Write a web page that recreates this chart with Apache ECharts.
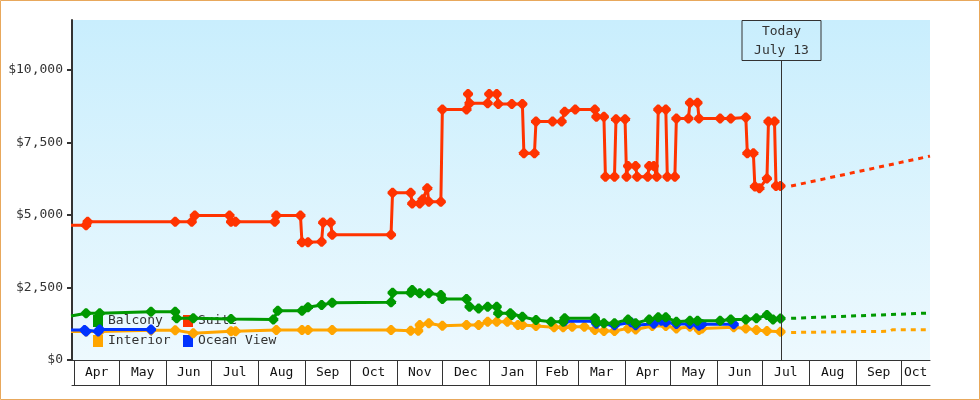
<!DOCTYPE html>
<html>
<head>
<meta charset="utf-8">
<script src="https://cdn.jsdelivr.net/npm/echarts@6/dist/echarts.min.js"></script>
<style>
  html, body { margin: 0; padding: 0; background: #fff; }
  #chart { width: 980px; height: 400px; }
</style>
</head>
<body>
<div id="chart"></div>
<script>
// price history per cabin type: [date, price in USD]
const suite = [
  ['2018-03-30', 4650], ['2018-04-09', 4650], ['2018-04-10', 4770], ['2018-06-07', 4770], ['2018-06-18', 4770],
  ['2018-06-20', 4980], ['2018-07-13', 4980], ['2018-07-14', 4770], ['2018-07-17', 4770], ['2018-08-12', 4770],
  ['2018-08-13', 4980], ['2018-08-29', 4980], ['2018-08-30', 4060], ['2018-09-03', 4060], ['2018-09-12', 4080],
  ['2018-09-13', 4740], ['2018-09-18', 4740], ['2018-09-19', 4320], ['2018-10-28', 4320], ['2018-10-29', 5770],
  ['2018-11-10', 5770], ['2018-11-11', 5400], ['2018-11-16', 5400], ['2018-11-18', 5540], ['2018-11-21', 5920],
  ['2018-11-22', 5460], ['2018-11-30', 5460], ['2018-12-01', 8640], ['2018-12-17', 8640], ['2018-12-18', 9170],
  ['2018-12-19', 8850], ['2018-12-31', 8850], ['2019-01-01', 9170], ['2019-01-06', 9170], ['2019-01-07', 8830],
  ['2019-01-16', 8830], ['2019-01-23', 8830], ['2019-01-24', 7130], ['2019-01-31', 7130], ['2019-02-01', 8220],
  ['2019-02-12', 8220], ['2019-02-18', 8220], ['2019-02-20', 8560], ['2019-02-27', 8640], ['2019-03-12', 8640],
  ['2019-03-13', 8390], ['2019-03-18', 8390], ['2019-03-19', 6320], ['2019-03-25', 6320], ['2019-03-26', 8300],
  ['2019-04-01', 8300], ['2019-04-02', 6320], ['2019-04-03', 6690], ['2019-04-08', 6690], ['2019-04-09', 6320],
  ['2019-04-16', 6320], ['2019-04-17', 6690], ['2019-04-20', 6690], ['2019-04-22', 6320], ['2019-04-23', 8640],
  ['2019-04-28', 8640], ['2019-04-29', 6320], ['2019-05-04', 6320], ['2019-05-05', 8330], ['2019-05-13', 8330],
  ['2019-05-14', 8870], ['2019-05-19', 8870], ['2019-05-20', 8330], ['2019-06-03', 8330], ['2019-06-10', 8330],
  ['2019-06-20', 8360], ['2019-06-21', 7130], ['2019-06-25', 7130], ['2019-06-26', 5980], ['2019-06-29', 5920],
  ['2019-07-04', 6260], ['2019-07-05', 8220], ['2019-07-09', 8220], ['2019-07-10', 6000], ['2019-07-13', 6000]
];
const balcony = [
  ['2018-03-30', 1520], ['2018-04-09', 1610], ['2018-04-18', 1610], ['2018-05-22', 1666], ['2018-06-07', 1666],
  ['2018-06-08', 1440], ['2018-06-19', 1440], ['2018-07-14', 1415], ['2018-08-11', 1400], ['2018-08-14', 1700],
  ['2018-08-30', 1700], ['2018-09-03', 1817], ['2018-09-12', 1896], ['2018-09-19', 1976], ['2018-10-28', 1990],
  ['2018-10-29', 2320], ['2018-11-10', 2320], ['2018-11-11', 2410], ['2018-11-16', 2300], ['2018-11-22', 2300],
  ['2018-11-30', 2240], ['2018-12-01', 2100], ['2018-12-17', 2100], ['2018-12-19', 1840], ['2018-12-25', 1780],
  ['2018-12-31', 1840], ['2019-01-06', 1840], ['2019-01-07', 1610], ['2019-01-15', 1610], ['2019-01-16', 1550],
  ['2019-01-23', 1490], ['2019-02-01', 1380], ['2019-02-11', 1320], ['2019-02-19', 1320], ['2019-02-20', 1437],
  ['2019-03-12', 1437], ['2019-03-13', 1300], ['2019-03-18', 1265], ['2019-03-25', 1265], ['2019-04-03', 1400],
  ['2019-04-08', 1265], ['2019-04-17', 1400], ['2019-04-23', 1470], ['2019-04-28', 1470], ['2019-05-05', 1320],
  ['2019-05-14', 1355], ['2019-05-19', 1355], ['2019-06-03', 1355], ['2019-06-10', 1400], ['2019-06-20', 1400],
  ['2019-06-27', 1437], ['2019-07-04', 1550], ['2019-07-08', 1400], ['2019-07-13', 1430]
];
const interior = [
  ['2018-03-30', 980], ['2018-04-09', 980], ['2018-04-18', 980], ['2018-05-22', 1030], ['2018-06-07', 1030],
  ['2018-06-19', 920], ['2018-07-14', 990], ['2018-07-17', 990], ['2018-08-13', 1034], ['2018-08-30', 1034],
  ['2018-09-03', 1034], ['2018-09-19', 1034], ['2018-10-28', 1034], ['2018-11-10', 1010], ['2018-11-15', 1010],
  ['2018-11-16', 1207], ['2018-11-22', 1265], ['2018-12-01', 1183], ['2018-12-17', 1207], ['2018-12-25', 1207],
  ['2018-12-31', 1320], ['2019-01-06', 1320], ['2019-01-13', 1320], ['2019-01-20', 1207], ['2019-01-23', 1207],
  ['2019-02-01', 1172], ['2019-02-13', 1127], ['2019-02-19', 1127], ['2019-02-25', 1150], ['2019-03-05', 1150],
  ['2019-03-12', 1034], ['2019-03-18', 1000], ['2019-03-25', 1000], ['2019-04-03', 1090], ['2019-04-08', 1050],
  ['2019-04-19', 1170], ['2019-04-28', 1170], ['2019-05-05', 1090], ['2019-05-14', 1150], ['2019-05-20', 1034],
  ['2019-05-22', 1090], ['2019-06-12', 1130], ['2019-06-20', 1090], ['2019-06-27', 1034], ['2019-07-04', 1000],
  ['2019-07-13', 976]
];
const oceanView = [
  ['2018-03-30', 1034], ['2018-04-08', 1034], ['2018-04-09', 980], ['2018-04-17', 980], ['2018-04-18', 1050],
  ['2018-05-22', 1050], ['2018-05-23', '-'], ['2019-02-19', '-'], ['2019-02-20', 1340], ['2019-03-12', 1340],
  ['2019-03-13', 1250], ['2019-03-25', 1200], ['2019-04-05', 1300], ['2019-04-08', 1200], ['2019-04-20', 1250],
  ['2019-04-25', 1350], ['2019-04-28', 1300], ['2019-05-05', 1240], ['2019-05-14', 1240], ['2019-05-20', 1180],
  ['2019-05-22', 1230], ['2019-06-12', 1230]
];
// projected prices after today (dotted)
const suiteForecast = [['2019-07-20', 6000], ['2019-10-20', 7030]];
const balconyForecast = [['2019-07-20', 1437], ['2019-10-20', 1620]];
const interiorForecast = [['2019-07-20', 950], ['2019-09-23', 990], ['2019-09-25', 1040], ['2019-10-20', 1045]];

const legendNames = ['Balcony', 'Suite', 'Interior', 'Ocean View'];
const monthStarts = [
  '2018-04-01', '2018-05-01', '2018-06-01', '2018-07-01', '2018-08-01', '2018-09-01', '2018-10-01',
  '2018-11-01', '2018-12-01', '2019-01-01', '2019-02-01', '2019-03-01', '2019-04-01', '2019-05-01',
  '2019-06-01', '2019-07-01', '2019-08-01', '2019-09-01', '2019-10-01'
];
const MONTH_ABBR = ['Jan', 'Feb', 'Mar', 'Apr', 'May', 'Jun', 'Jul', 'Aug', 'Sep', 'Oct', 'Nov', 'Dec'];
const yTicks = [0, 2500, 5000, 7500, 10000];
const todayDate = '2019-07-13';
const todayLabel = 'Today\nJuly 13';

const AXIS_START = '2018-03-30 16:00';
const AXIS_END = '2019-10-20';
const Y_MAX = 11724;

const FONT = '"DejaVu Sans Mono", monospace';
const INK = '#333';
const COLORS = { Suite: '#ff3300', Balcony: '#009900', Interior: '#ffa500', 'Ocean View': '#0033ff' };
const DOT = 'path://M4,0 L6,0 L10,4 L10,6 L6,10 L4,10 L0,6 L0,4 Z';

/** 'YYYY-MM-DD[ HH:mm]' -> local timestamp */
function ts(s) {
  const [d, t] = s.split(' ');
  const [y, m, day] = d.split('-').map(Number);
  const [hh, mm] = (t || '0:0').split(':').map(Number);
  return new Date(y, m - 1, day, hh, mm).getTime();
}
const toPoints = rows => rows.map(([d, v]) => [ts(d), v]);

// month label sits in the middle of its (visible) month box
const startsTs = monthStarts.map(ts);
const labelPos = startsTs.map((s, i) => (s + (i + 1 < startsTs.length ? startsTs[i + 1] : ts(AXIS_END))) / 2);

function priceSeries(name, rows, z) {
  const color = COLORS[name];
  return {
    name, type: 'line', data: toPoints(rows), z,
    symbol: DOT, symbolSize: 10, showAllSymbol: true,
    lineStyle: { color, width: 3 },
    itemStyle: { color },
    emphasis: { disabled: true },
    connectNulls: false
  };
}
function forecastSeries(name, rows, z) {
  const color = COLORS[name];
  return {
    name: name + ' forecast', type: 'line', data: toPoints(rows), z,
    symbol: 'none',
    lineStyle: { color, width: 3, type: [5, 5] },
    itemStyle: { color },
    emphasis: { disabled: true }
  };
}

const chart = echarts.init(document.getElementById('chart'), null, { renderer: 'canvas' });
chart.setOption({
  animation: false,
  backgroundColor: '#fff',
  grid: {
    left: 72, right: 50, top: 20, bottom: 40,
    show: true, borderWidth: 0,
    backgroundColor: new echarts.graphic.LinearGradient(0, 0, 0, 1, [
      { offset: 0, color: '#c9eefd' },
      { offset: 1, color: '#edf9fe' }
    ]),
    containLabel: false, outerBoundsMode: 'none'
  },
  legend: {
    data: legendNames, left: 93, top: 313, width: 185, padding: 0,
    itemWidth: 10, itemHeight: 12, itemGap: 4, icon: 'rect',
    selectedMode: false, z: 1,
    textStyle: { fontFamily: FONT, fontSize: 13, color: INK, width: 71, lineHeight: 16 }
  },
  xAxis: [
    {
      type: 'value', min: ts(AXIS_START), max: ts(AXIS_END),
      axisLine: { show: true, lineStyle: { color: INK, width: 1 } },
      axisTick: { show: true, customValues: startsTs, length: 25, inside: false, lineStyle: { color: INK, width: 1 } },
      axisLabel: {
        customValues: labelPos, margin: 6, hideOverlap: false,
        fontFamily: FONT, fontSize: 13, color: '#111',
        formatter: v => MONTH_ABBR[new Date(v).getMonth()]
      },
      splitLine: { show: false }
    },
    {
      type: 'value', min: ts(AXIS_START), max: ts(AXIS_END), position: 'bottom', offset: 25,
      axisLine: { show: true, lineStyle: { color: INK, width: 1 } },
      axisTick: { show: false }, axisLabel: { show: false }, splitLine: { show: false }
    }
  ],
  yAxis: {
    type: 'value', min: 0, max: Y_MAX,
    axisLine: { show: true, lineStyle: { color: INK, width: 2 } },
    axisTick: { show: true, customValues: yTicks, length: 5, lineStyle: { color: INK, width: 2 } },
    axisLabel: {
      customValues: yTicks, margin: 9, fontFamily: FONT, fontSize: 13, color: INK,
      formatter: v => '$' + Number(v).toLocaleString('en-US')
    },
    splitLine: { show: false }
  },
  series: [
    priceSeries('Interior', interior, 3),
    priceSeries('Ocean View', oceanView, 4),
    priceSeries('Balcony', balcony, 5),
    priceSeries('Suite', suite, 6),
    forecastSeries('Interior', interiorForecast, 3),
    forecastSeries('Balcony', balconyForecast, 5),
    forecastSeries('Suite', suiteForecast, 6)
  ]
});

// "today" marker + outer frame, positioned through the axes
const tx = Math.round(chart.convertToPixel({ xAxisIndex: 0 }, ts(todayDate))) + 0.5;
const yTop = Math.round(chart.convertToPixel({ yAxisIndex: 0 }, Y_MAX)) + 0.5;
const yBottom = Math.round(chart.convertToPixel({ yAxisIndex: 0 }, 0));
chart.setOption({
  graphic: [
    { type: 'rect', z: 100, silent: true, shape: { x: 0.5, y: 0.5, width: 979, height: 399 },
      style: { fill: 'none', stroke: '#e8a85c', lineWidth: 1 } },
    { type: 'line', z: 100, silent: true, shape: { x1: tx, y1: yTop + 40, x2: tx, y2: yBottom },
      style: { stroke: INK, lineWidth: 1 } },
    { type: 'rect', z: 100, silent: true, shape: { x: tx - 39.5, y: yTop, width: 79, height: 40 },
      style: { fill: 'none', stroke: INK, lineWidth: 1 } },
    { type: 'text', z: 100, silent: true, x: tx, y: yTop + 21,
      style: { text: todayLabel, align: 'center', verticalAlign: 'middle', fill: INK,
               font: '13px ' + FONT, lineHeight: 19 } }
  ]
});
</script>
</body>
</html>
